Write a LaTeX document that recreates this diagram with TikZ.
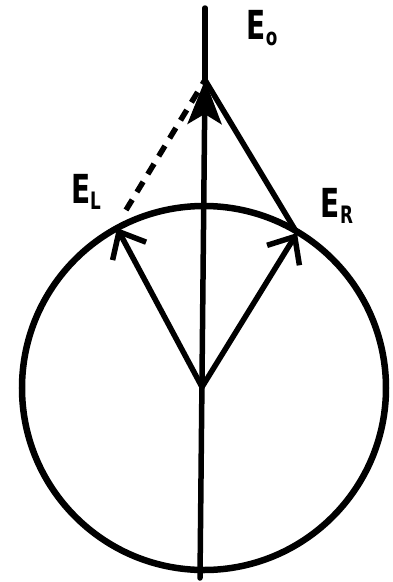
\documentclass[tikz,border=0pt]{standalone}
\usepackage{fontspec}
\setmainfont{DejaVu Sans}
\usetikzlibrary{arrows.meta}
\begin{document}
\begin{tikzpicture}[x=1pt,y=-1pt,
  ray/.style={line width=5.5pt,line cap=round},
  openarrow/.style={-{Straight Barb[length=22pt,width=38pt,line width=5.5pt]}},
  tiparrow/.style={-{Stealth[length=44pt,width=34pt,inset=10pt]}},
  lab/.style={inner sep=0pt}]
\useasboundingbox (0,0) rectangle (392,582);
\coordinate (C) at (204,388);
\coordinate (O) at (202,387);
\coordinate (Tip) at (205,80);
\coordinate (Top) at (205,8);
\coordinate (Bot) at (200,578);
\coordinate (L) at (117,228);
\coordinate (Ls) at (126,210);
\coordinate (R) at (297,233);
\draw[line width=6.5pt] (C) circle (182);
\draw[ray] (Tip) -- (Top);
\draw[ray,tiparrow] (Bot) -- (Tip);
\draw[ray,openarrow] (O) -- (L);
\draw[ray,openarrow] (O) -- (R);
\draw[ray,line cap=butt,dash pattern=on 12pt off 9pt] (Ls) -- (Tip);
\draw[ray] (R) -- (Tip);
\node[lab] (E0) at (262,28) {\scalebox{0.7}[1]{\bfseries\fontsize{40}{40}\selectfont E\raisebox{-6pt}{\fontsize{24}{24}\selectfont o}}};
\node[lab] (EL) at (86,192) {\scalebox{0.7}[1]{\bfseries\fontsize{40}{40}\selectfont E\raisebox{-6pt}{\fontsize{24}{24}\selectfont L}}};
\node[lab] (ER) at (337,206) {\scalebox{0.7}[1]{\bfseries\fontsize{40}{40}\selectfont E\raisebox{-6pt}{\fontsize{24}{24}\selectfont R}}};
\end{tikzpicture}
\end{document}
